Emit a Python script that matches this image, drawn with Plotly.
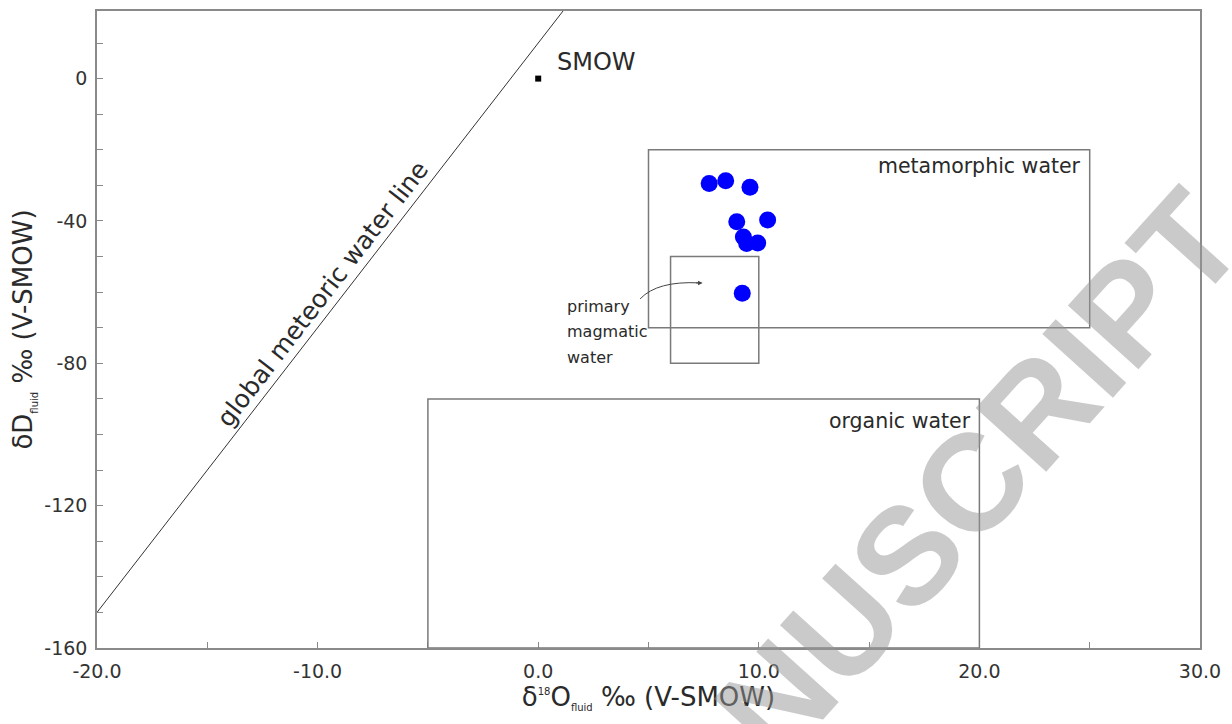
import plotly.graph_objects as go

# ---- data ----
d18o_fluid = [7.75, 8.5, 9.6, 9.0, 10.4, 9.3, 9.45, 9.95, 9.25]
dD_fluid = [-29.5, -28.7, -30.5, -40.2, -39.7, -44.5, -46.3, -46.2, -60.3]

smow_x = [0.0]
smow_y = [0.0]

gmwl_x = [-20.0, 1.125]          # global meteoric water line dD = 8*d18O + 10
gmwl_y = [8 * v + 10 for v in gmwl_x]

# boxes: (x0, x1, y0, y1)
metamorphic_box = (5, 25, -70, -20)
magmatic_box = (6, 10, -80, -50)
organic_box = (-5, 20, -160, -90)

x_ticks = [-20, -10, 0, 10, 20, 30]
x_ticktext = ["-20.0", "-10.0", "0.0", "10.0", "20.0", "30.0"]
x_minor = [-15, -5, 5, 15, 25]
y_ticks = [-160, -120, -80, -40, 0]
y_ticktext = ["-160", "-120", "-80", "-40", "0"]
y_minor = [-150, -140, -130, -110, -100, -90, -70, -60, -50, -30, -20, -10, 10]

FONT = "DejaVu Sans"
TXT = "#2a2a2a"
AX = "#8a8a8a"

fig = go.Figure()

fig.add_trace(go.Scatter(x=gmwl_x, y=gmwl_y, mode="lines",
                         line=dict(color="#333333", width=1), hoverinfo="skip"))
fig.add_trace(go.Scatter(x=smow_x, y=smow_y, mode="markers",
                         marker=dict(symbol="square", size=6, color="black")))
fig.add_trace(go.Scatter(x=d18o_fluid, y=dD_fluid, mode="markers",
                         marker=dict(size=17, color="#0000ff", line=dict(width=0))))

for (x0, x1, y0, y1) in [metamorphic_box, magmatic_box, organic_box]:
    fig.add_shape(type="rect", x0=x0, x1=x1, y0=y0, y1=y1, xref="x", yref="y",
                  line=dict(color="#7a7a7a", width=1.5), fillcolor="rgba(0,0,0,0)")

# curved arrow for primary magmatic water
fig.add_shape(type="path", xref="x", yref="y",
              path="M 4.62,-61.9 Q 5.4,-56.8 7.3,-57.4",
              line=dict(color="#444444", width=1))
fig.add_annotation(x=7.45, y=-57.4, xref="x", yref="y", text="", showarrow=True,
                   ax=-8, ay=0, arrowhead=2, arrowsize=0.9, arrowwidth=1,
                   arrowcolor="#444444")

ann = [
    dict(x=0.75, y=4.8, text="SMOW", xanchor="left", size=24),
    dict(x=24.7, y=-24.6, text="metamorphic water", xanchor="right", size=20.5),
    dict(x=19.7, y=-96.1, text="organic water", xanchor="right", size=20.5),
    dict(x=1.22, y=-63.9, text="primary", xanchor="left", size=16),
    dict(x=1.22, y=-71.1, text="magmatic", xanchor="left", size=16),
    dict(x=1.22, y=-78.4, text="water", xanchor="left", size=16),
]
for a in ann:
    fig.add_annotation(x=a["x"], y=a["y"], xref="x", yref="y", text=a["text"],
                       xanchor=a["xanchor"], yanchor="middle", showarrow=False,
                       font=dict(family=FONT, size=a["size"], color=TXT))

fig.add_annotation(x=-9.75, y=-60.5, xref="x", yref="y",
                   text="global meteoric water line", showarrow=False,
                   textangle=-52.3, font=dict(family=FONT, size=25, color=TXT))

# watermark
fig.add_annotation(x=0.734, y=0.146, xref="paper", yref="paper",
                   xanchor="center", yanchor="middle",
                   text="<b>MANUSCRIPT</b>", showarrow=False, textangle=-48,
                   font=dict(family="Liberation Sans", size=138,
                             color="rgba(150,150,150,0.5)"))

fig.update_layout(
    width=1232, height=724,
    margin=dict(l=97, r=32, t=9, b=76),
    paper_bgcolor="white", plot_bgcolor="white",
    showlegend=False,
    font=dict(family=FONT, color=TXT),
)
fig.update_xaxes(
    range=[-20, 30], showgrid=False, zeroline=False,
    showline=True, linecolor=AX, linewidth=1.5, mirror=True,
    ticks="inside", ticklen=6, tickcolor=AX, tickwidth=1,
    tickmode="array", tickvals=x_ticks, ticktext=x_ticktext,
    minor=dict(ticks="inside", ticklen=6, tickcolor=AX, tickwidth=1, tickvals=x_minor),
    tickfont=dict(family=FONT, size=19, color="#333333"),
    ticklabelstandoff=5,
    title=dict(text="δ<sup><span style='font-size:10px'>18</span></sup>O"
                    "<sub><span style='font-size:10px'>fluid</span></sub> ‰ (V-SMOW)",
               font=dict(family=FONT, size=26, color=TXT), standoff=2),
)
fig.update_yaxes(
    range=[-160, 19], showgrid=False, zeroline=False,
    showline=True, linecolor=AX, linewidth=1.5, mirror=True,
    ticks="inside", ticklen=6, tickcolor=AX, tickwidth=1,
    tickmode="array", tickvals=y_ticks, ticktext=y_ticktext,
    minor=dict(ticks="inside", ticklen=6, tickcolor=AX, tickwidth=1, tickvals=y_minor),
    tickfont=dict(family=FONT, size=19, color="#333333"),
    ticklabelstandoff=4,
    title=dict(text="δD<sub><span style='font-size:10px'>fluid</span></sub> ‰ (V-SMOW)",
               font=dict(family=FONT, size=26, color=TXT), standoff=4),
)

fig.write_html("out.html", config={"displayModeBar": False},
               post_script="document.body.style.margin='0';document.body.style.padding='0';")
